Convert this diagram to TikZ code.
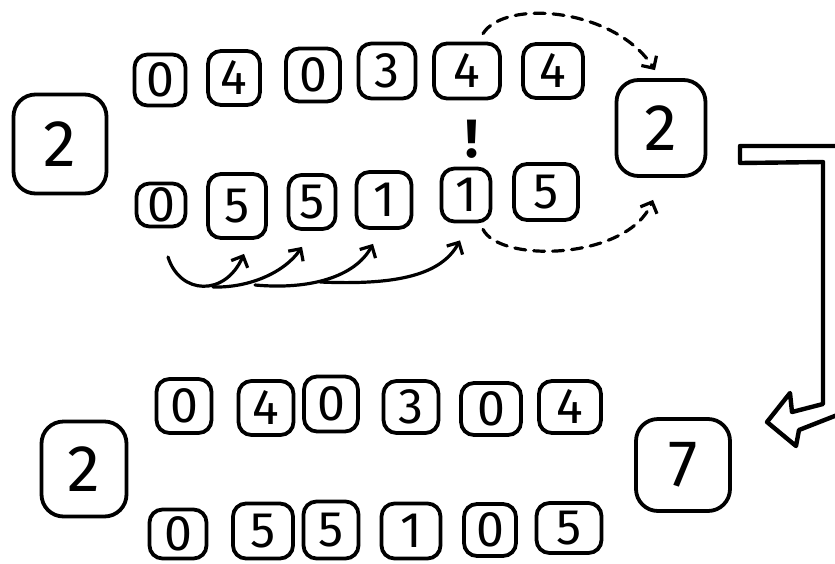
\documentclass[tikz,border=0pt]{standalone}
\usepackage{fontspec}
\setmainfont{Fira Sans}
\usetikzlibrary{arrows.meta,calc}
\begin{document}
\begin{tikzpicture}[x=1pt,y=-1pt,
  sbox/.style={draw, line width=3.8pt, rounded corners=13pt, inner sep=0pt, font=\fontsize{50}{50}\selectfont},
  bbox/.style={draw, line width=3.8pt, rounded corners=22pt, inner sep=0pt, font=\fontsize{66}{66}\selectfont},
  carrow/.style={line width=3.2pt, line cap=round, -{Straight Barb[length=9pt,width=18pt]}},
  darrow/.style={carrow, dash pattern=on 11pt off 8pt},
  hollow/.style={line width=4.4pt, line join=round}]
\useasboundingbox (0,0) rectangle (835,563);

% ---------- upper section ----------
\node[bbox, minimum width=93pt, minimum height=99pt] (L1) at (60,144) {2};
\node[bbox, minimum width=89pt, minimum height=96pt] (R1) at (661,128) {2};

\node[sbox, minimum width=51pt, minimum height=51pt] (t1) at (160,80) {0};
\node[sbox, minimum width=52pt, minimum height=54pt] (t2) at (234,78) {4};
\node[sbox, minimum width=54pt, minimum height=53pt] (t3) at (313,75) {0};
\node[sbox, minimum width=57pt, minimum height=55pt] (t4) at (387,71) {3};
\node[sbox, minimum width=66pt, minimum height=55pt] (t5) at (467,71) {4};
\node[sbox, minimum width=60pt, minimum height=54pt] (t6) at (553,71) {4};

\node[sbox, minimum width=49pt, minimum height=43pt] (b1) at (161,205) {0};
\node[sbox, minimum width=58pt, minimum height=64pt] (b2) at (237,206) {5};
\node[sbox, minimum width=47pt, minimum height=54pt] (b3) at (312,202) {5};
\node[sbox, minimum width=55pt, minimum height=56pt] (b4) at (384,200) {1};
\node[sbox, minimum width=49pt, minimum height=53pt] (b5) at (466,195) {1};
\node[sbox, minimum width=64pt, minimum height=56pt] (b6) at (546,192) {5};

\node[font=\fontsize{54}{54}\selectfont\bfseries, inner sep=0pt] (ex) at (472,139) {!};

% curved solid arrows
\coordinate (s1) at (168,257);
\coordinate (s2) at (213,287);
\coordinate (s3) at (255,285);
\coordinate (s4) at (320,282);
\coordinate (e1) at ($(b2.south)+(7,14)$);
\coordinate (e2) at ($(b3.south)+(-10,16)$);
\coordinate (e3) at ($(b4.south)+(-11,14)$);
\coordinate (e4) at ($(b5.south)+(-6,17)$);
\draw[carrow] (s1) .. controls +(12,38) and +(-19,43) .. (e1);
\draw[carrow] (s2) .. controls +(37,1) and +(-17,25) .. (e2);
\draw[carrow] (s3) .. controls +(55,5) and +(-18,33) .. (e3);
\draw[carrow] (s4) .. controls +(70,3) and +(-20,37) .. (e4);

% dashed arcs
\coordinate (ds) at ($(t5.north)+(16,-8)$);
\coordinate (de) at ($(R1.north)+(-6,-8)$);
\draw[darrow] (ds) .. controls +(22,-35) and +(-40,-62) .. (de);
\coordinate (ls) at ($(b5.south)+(17,6)$);
\coordinate (le) at ($(R1.south)+(-8,22)$);
\draw[darrow] (ls) .. controls +(17,34) and +(-25,60) .. (le);

% hollow bent arrow
\begin{scope}
\clip (0,0) rectangle (835,563);
\draw[hollow] (850,146) -- (740,146) -- (740,163) -- (823,162) -- (823,404)
  -- (792,412) -- (790,393) -- (767,422) -- (796,446) -- (799,430) -- (850,410);
\end{scope}

% ---------- lower section ----------
\node[bbox, minimum width=85pt, minimum height=95pt] (L2) at (84,469) {2};
\node[bbox, minimum width=94pt, minimum height=92pt] (R2) at (683,465) {7};

\node[sbox, minimum width=55pt, minimum height=54pt] (u1) at (184,406) {0};
\node[sbox, minimum width=55pt, minimum height=54pt] (u2) at (266,408) {4};
\node[sbox, minimum width=54pt, minimum height=55pt] (u3) at (331,404) {0};
\node[sbox, minimum width=55pt, minimum height=52pt] (u4) at (411,407) {3};
\node[sbox, minimum width=60pt, minimum height=52pt] (u5) at (491,409) {0};
\node[sbox, minimum width=62pt, minimum height=52pt] (u6) at (570,407) {4};

\node[sbox, minimum width=57pt, minimum height=49pt] (d1) at (178,534) {0};
\node[sbox, minimum width=60pt, minimum height=55pt] (d2) at (263,531) {5};
\node[sbox, minimum width=55pt, minimum height=57pt] (d3) at (331,530) {5};
\node[sbox, minimum width=59pt, minimum height=55pt] (d4) at (411,531) {1};
\node[sbox, minimum width=52pt, minimum height=52pt] (d5) at (490,530) {0};
\node[sbox, minimum width=65pt, minimum height=50pt] (d6) at (569,528) {5};
\end{tikzpicture}
\end{document}
